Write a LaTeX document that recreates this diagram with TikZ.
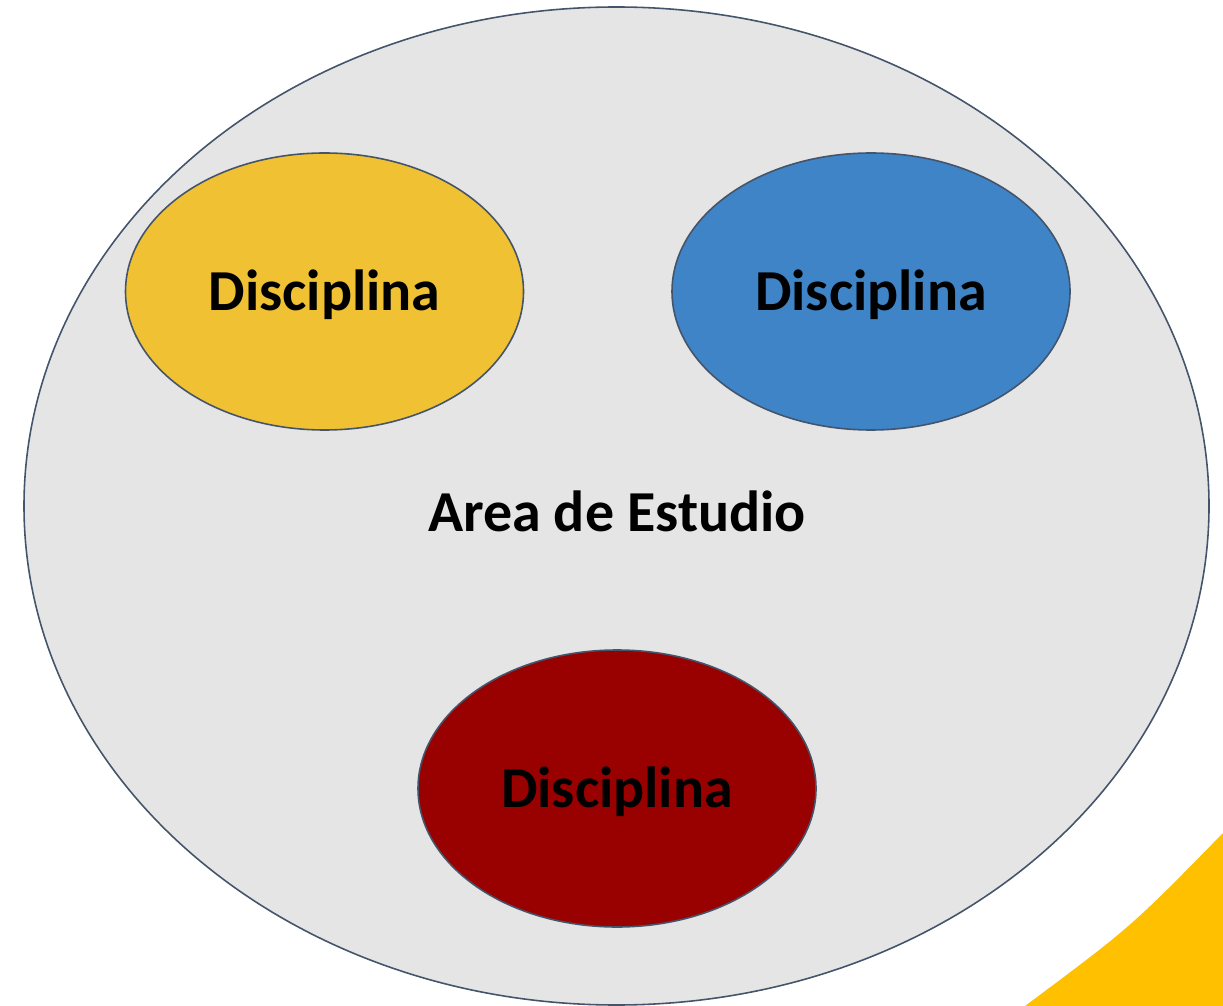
\documentclass[tikz,border=0pt]{standalone}
\usepackage{fontspec}
\setmainfont{Carlito}
\usetikzlibrary{shapes.geometric}
\definecolor{areagrey}{HTML}{E5E5E5}
\definecolor{edge}{HTML}{44546A}
\definecolor{dyellow}{HTML}{F0C132}
\definecolor{dblue}{HTML}{3E84C6}
\definecolor{dred}{HTML}{990000}
\definecolor{gold}{HTML}{FFC000}
\begin{document}
\begin{tikzpicture}[x=0.02cm,y=-0.02cm,
  disc/.style={ellipse, draw=edge, line width=0.9pt, minimum width=398*0.02cm, minimum height=277*0.02cm, inner sep=0pt},
  lbl/.style={font=\fontsize{33}{39}\selectfont\bfseries, text=black}]
\useasboundingbox (0,0) rectangle (1223,1006);
\fill[gold] (1223,833) .. controls (1131,927) .. (1025,1006) -- (1223,1006) -- cycle;
\node[ellipse, draw=edge, line width=0.9pt, fill=areagrey, minimum width=1185*0.02cm, minimum height=998*0.02cm, inner sep=0pt] (area) at (616.5,506) {};
\node[disc, fill=dyellow] (d1) at (324.5,291.5) {};
\node[disc, fill=dblue] (d2) at (871,291.5) {};
\node[disc, fill=dred] (d3) at (617,788.5) {};
\node[lbl] (t1) at (324.5,295) {Disciplina};
\node[lbl] (t2) at (871,295) {Disciplina};
\node[lbl] (t3) at (617,792) {Disciplina};
\node[lbl] (ta) at (617,511) {Area de Estudio};
\end{tikzpicture}
\end{document}
